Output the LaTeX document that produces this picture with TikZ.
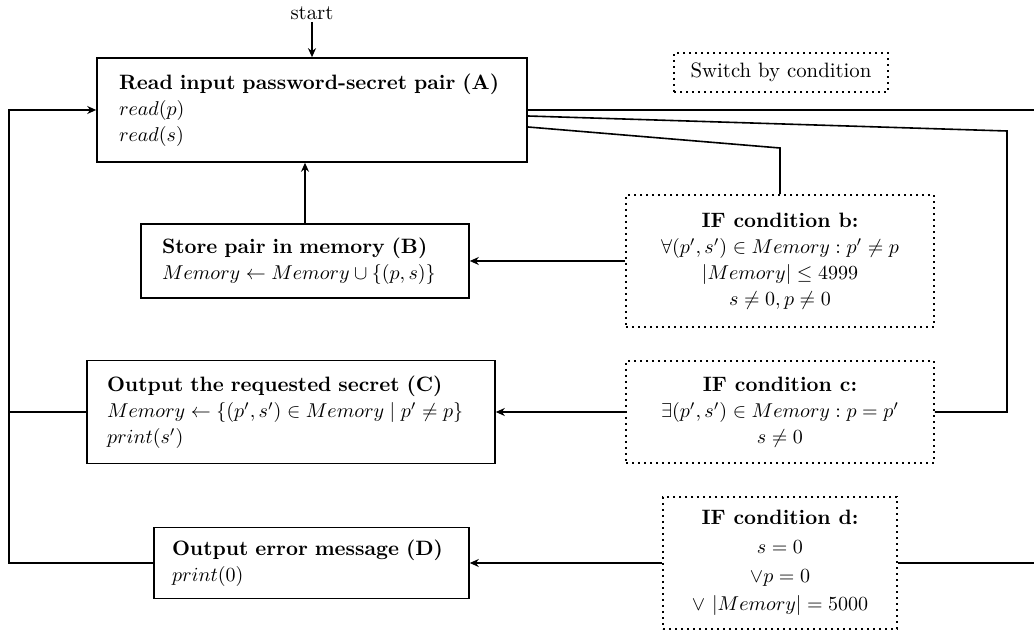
\documentclass[tikz,border=0pt]{standalone}
\usetikzlibrary{arrows.meta,calc}
\begin{document}
\begin{tikzpicture}[x=0.5pt,y=-0.5pt,
  every node/.style={font=\fontsize{10.4}{13}\selectfont},
  conn/.style={line width=0.8pt},
  arr/.style={line width=0.8pt,-{Stealth[length=4.5pt,width=4pt]}},
  box/.style={draw, line width=0.8pt, align=left, inner xsep=11pt, inner ysep=0pt},
  cond/.style={draw, line width=0.8pt, dash pattern=on 0.8pt off 2.2pt, align=center, inner sep=0pt}]
\useasboundingbox (0,0) rectangle (1034,635);

% process boxes
\node[box, text width=193pt, minimum height=52pt] (A) at (312,110)
  {\textbf{Read input password-secret pair (A)}\\ $read(p)$\\ $read(s)$};
\node[box, inner xsep=10.5pt, text width=143pt, minimum height=37pt] (B) at (305,261)
  {\textbf{Store pair in memory (B)}\\ $Memory \leftarrow Memory \cup \{(p,s)\}$};
\node[box, inner xsep=10pt, text width=184pt, minimum height=51.5pt] (C) at (291,412)
  {\textbf{Output the requested secret (C)}\\ $Memory \leftarrow \{(p',s') \in Memory \mid p' \neq p\}$\\ $print(s')$};
\node[box, inner xsep=9pt, text width=139.5pt, minimum height=35.5pt] (D) at (311.5,563)
  {\textbf{Output error message (D)}\\ $print(0)$};

% condition boxes
\node[cond, minimum width=107pt, minimum height=19.5pt] (sw) at (781,72.5) {Switch by condition};
\node[cond, minimum width=154pt, minimum height=66pt] (b) at (780,261)
  {\textbf{IF condition b:}\\ $\forall (p',s') \in Memory : p' \neq p$\\ $|Memory| \leq 4999$\\ $s \neq 0, p \neq 0$};
\node[cond, minimum width=154pt, minimum height=51pt] (c) at (780,412)
  {\textbf{IF condition c:}\\ $\exists (p',s') \in Memory : p = p'$\\ $s \neq 0$};
\node[cond, minimum width=117pt, minimum height=66pt] (d) at (780,563)
  {\textbf{IF condition d:}\\[1.3pt] $s = 0$\\[1.3pt] $\vee p = 0$\\[1.3pt] $\vee\ |Memory| = 5000$};

\node[inner sep=1pt] (start) at (312,13) {start};

% helper coordinates
\coordinate (eA) at (1034,110);
\coordinate (eD) at (1034,563);
\coordinate (k1) at (1007,131);
\coordinate (k2) at (780,148);
\coordinate (L1) at (9,563);
\coordinate (L2) at (9,110);

% connectors
\draw[arr] (start.south) -- (A.north);
\draw[arr] (B.north) -- (B.north |- A.south);
\draw[arr] (b.west) -- (B.east);
\draw[arr] (c.west) -- (c.west -| C.east);
\draw[arr] (d.west) -- (d.west -| D.east);
\draw[conn] (A.east) -- (eA);
\draw[conn] ([yshift=-3pt]A.east) -- (k1) -- (k1 |- c.east) -- (c.east);
\draw[conn] ([yshift=-8.5pt]A.east) -- (k2) -- (b.north);
\draw[conn] (d.east) -- (eD);
\draw[arr] (D.west) -- (L1) -- (L2) -- (A.west);
\draw[conn] (C.west) -- (C.west -| L1);
\end{tikzpicture}
\end{document}
